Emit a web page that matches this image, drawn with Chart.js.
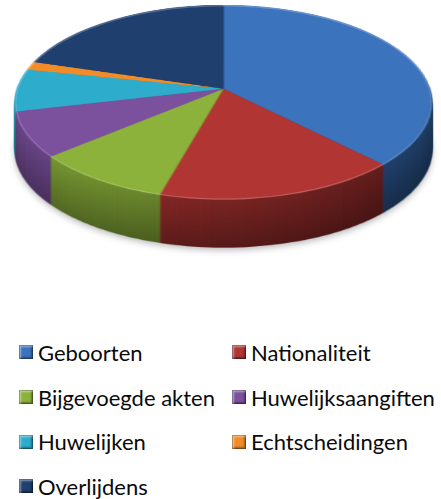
<!DOCTYPE html>
<html>
<head>
<meta charset="utf-8">
<script src="https://cdn.jsdelivr.net/npm/chart.js@4/dist/chart.umd.min.js"></script>
<style>
  html, body { margin: 0; padding: 0; background: #fff; }
  body { width: 441px; height: 499px; position: relative; overflow: hidden;
         font-family: Lato, "Liberation Sans", sans-serif; }
  #pie { position: absolute; left: 0; top: 0; }
  #legend { position: absolute; left: 19px; top: 330px; display: grid;
            grid-template-columns: 213px auto; grid-auto-rows: 44.7px; }
  .item { display: flex; align-items: center; font-size: 22px; color: #0a0a0a; white-space: nowrap; }
  .box { width: 14px; height: 14px; margin-right: 5px; flex: none; box-sizing: border-box;
         box-shadow: inset 0 0 0 1px rgba(0,0,0,0.25), inset 2px 2px 2px rgba(255,255,255,0.45),
                     inset -2px -2px 2px rgba(0,0,0,0.35); }
</style>
</head>
<body>
<canvas id="pie" width="441" height="330"></canvas>
<div id="legend"></div>
<script>
// Share of each record type (percent)
const categories = ['Geboorten', 'Nationaliteit', 'Bijgevoegde akten', 'Huwelijksaangiften',
                    'Huwelijken', 'Echtscheidingen', 'Overlijdens'];
const shares = [37.7, 16.6, 9.5, 7.5, 7.0, 1.4, 20.3];
const sliceColors = ['#3b73bd', '#b03533', '#8db23c', '#7b519e', '#2eaccc', '#f28c28', '#1f3f6e'];

// Tilted-disc view: a point (u, s) of the unit disc (s = -1 far edge, +1 near edge)
// lands at x = CX + D*u/(1+C*s), y = (A*s + B)/(1+C*s).
const VIEW = { CX: 223.5, D: 206.5, A: 83.31, B: 89, C: -0.1385, DEPTH: 48 };

function project(u, s) {
  const w = 1 + VIEW.C * s;
  return [VIEW.CX + VIEW.D * u / w, (VIEW.A * s + VIEW.B) / w];
}

const tiltPlugin = {
  id: 'tilt3d',
  afterDraw(chart) {
    const arc = chart.getDatasetMeta(0).data[0];
    const r0 = arc.outerRadius, cx0 = arc.x, cy0 = arc.y;
    const half = Math.ceil(r0 + 3);
    const W = chart.width, H = chart.height;

    // flat pie as drawn by Chart.js
    const flat = document.createElement('canvas');
    flat.width = flat.height = 2 * half;
    flat.getContext('2d').drawImage(chart.canvas, cx0 - half, cy0 - half, 2 * half, 2 * half,
                                    0, 0, 2 * half, 2 * half);

    // re-project it row by row onto the tilted disc
    const top = document.createElement('canvas');
    top.width = W; top.height = H;
    const tc = top.getContext('2d');
    tc.imageSmoothingEnabled = true;
    tc.imageSmoothingQuality = 'high';
    for (let y = 0; y < H; y++) {
      const yc = y + 0.5;
      const s = (yc - VIEW.B) / (VIEW.A - VIEW.C * yc);
      const srcY = half + s * r0;
      if (srcY < 0 || srcY > 2 * half - 1) continue;
      const k = VIEW.D / (1 + VIEW.C * s) / r0;
      tc.drawImage(flat, 0, srcY, 2 * half, 1, VIEW.CX - half * k, y, 2 * half * k, 1);
    }

    // darker copy for the cylinder wall
    const side = document.createElement('canvas');
    side.width = W; side.height = H;
    const sc = side.getContext('2d');
    sc.drawImage(top, 0, 0);
    sc.globalCompositeOperation = 'source-atop';
    const g = sc.createLinearGradient(15, 0, 432, 0);
    g.addColorStop(0, 'rgba(0,0,0,0.28)');
    g.addColorStop(0.5, 'rgba(0,0,0,0.42)');
    g.addColorStop(1, 'rgba(0,0,0,0.56)');
    sc.fillStyle = g;
    sc.fillRect(0, 0, W, H);

    // soft bevel along the rim of the top face
    tc.save();
    tc.globalCompositeOperation = 'source-atop';
    tc.beginPath();
    for (let i = 0; i <= 360; i++) {
      const t = i * Math.PI / 180;
      const [px, py] = project(Math.sin(t), -Math.cos(t));
      if (i === 0) tc.moveTo(px, py); else tc.lineTo(px, py);
    }
    tc.closePath();
    tc.strokeStyle = 'rgba(255,255,255,0.22)';
    tc.lineWidth = 3;
    tc.stroke();
    tc.restore();

    const ctx = chart.ctx;
    ctx.save();
    ctx.setTransform(1, 0, 0, 1, 0, 0);
    ctx.clearRect(0, 0, W, H);
    for (let dy = VIEW.DEPTH; dy >= 1; dy--) {
      if (dy === VIEW.DEPTH) {
        ctx.shadowColor = 'rgba(0,0,0,0.3)';
        ctx.shadowBlur = 7;
        ctx.shadowOffsetY = 2;
      } else {
        ctx.shadowColor = 'transparent';
        ctx.shadowBlur = 0;
        ctx.shadowOffsetY = 0;
      }
      ctx.filter = 'brightness(' + (1.2 - 0.35 * dy / VIEW.DEPTH).toFixed(3) + ')';
      ctx.drawImage(side, 0, dy);
    }
    ctx.filter = 'none';
    ctx.shadowColor = 'transparent';
    ctx.drawImage(top, 0, 0);
    ctx.restore();
  }
};

const chart = new Chart(document.getElementById('pie'), {
  type: 'pie',
  data: {
    labels: categories,
    datasets: [{
      data: shares,
      backgroundColor: sliceColors,
      borderWidth: 0
    }]
  },
  options: {
    responsive: false,
    animation: false,
    devicePixelRatio: 1,
    events: [],
    plugins: { legend: { display: false }, tooltip: { enabled: false } }
  },
  plugins: [tiltPlugin]
});

// legend in two columns
const legend = document.getElementById('legend');
categories.forEach((name, i) => {
  const item = document.createElement('div');
  item.className = 'item';
  const box = document.createElement('span');
  box.className = 'box';
  box.style.background = sliceColors[i];
  item.appendChild(box);
  item.appendChild(document.createTextNode(name));
  legend.appendChild(item);
});
</script>
</body>
</html>
